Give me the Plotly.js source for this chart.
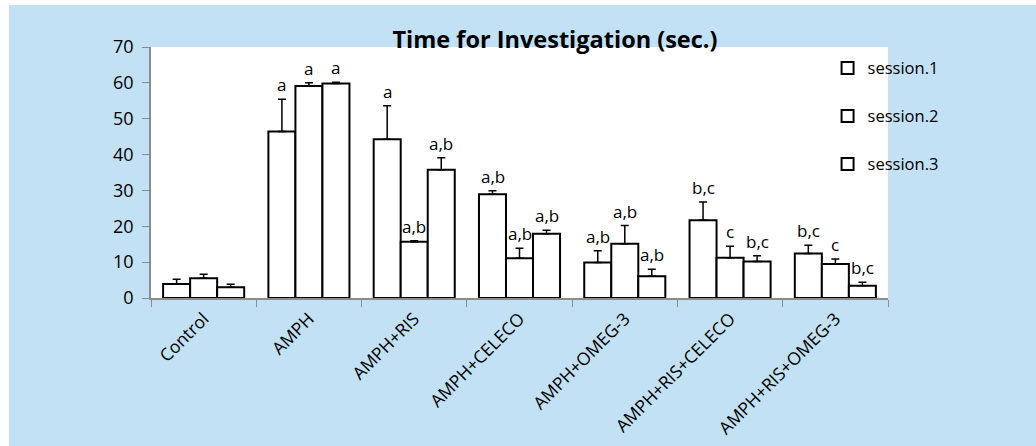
<!DOCTYPE html>
<html>
<head>
<meta charset="utf-8">
<script src="https://cdn.plot.ly/plotly-3.0.1.min.js"></script>
<style>
  html, body { margin: 0; padding: 0; background: #ffffff; }
  #chart { position: absolute; left: 9px; top: 5px; width: 1027px; height: 441px; }
</style>
</head>
<body>
<div id="chart"></div>
<script>
const categories = ["Control", "AMPH", "AMPH+RIS", "AMPH+CELECO", "AMPH+OMEG-3", "AMPH+RIS+CELECO", "AMPH+RIS+OMEG-3"];
const seriesNames = ["session.1", "session.2", "session.3"];

const session1 = [3.9, 46.4, 44.3, 28.9, 9.9, 21.7, 12.4];
const session2 = [5.5, 59.1, 15.7, 11.1, 15.1, 11.2, 9.5];
const session3 = [3.0, 59.8, 35.8, 17.9, 6.1, 10.2, 3.4];

const err1 = [1.3, 9.0, 9.3, 1.0, 3.3, 5.1, 2.3];
const err2 = [1.1, 0.9, 0.3, 2.8, 5.1, 3.2, 1.4];
const err3 = [0.8, 0.4, 3.3, 1.0, 1.9, 1.6, 1.0];

const letters1 = ["", "a", "a", "a,b", "a,b", "b,c", "b,c"];
const letters2 = ["", "a", "a,b", "a,b", "a,b", "c", "c"];
const letters3 = ["", "a", "a,b", "a,b", "a,b", "b,c", "b,c"];

const values = [session1, session2, session3];
const errors = [err1, err2, err3];
const letters = [letters1, letters2, letters3];

const FONT = "Open Sans, sans-serif";

const traces = values.map((vals, i) => ({
  type: "bar",
  name: seriesNames[i],
  x: categories,
  y: vals,
  legendgroup: "g" + i,
  marker: { color: "#ffffff", line: { color: "#000000", width: 2 } },
  error_y: {
    type: "data",
    array: errors[i],
    arrayminus: errors[i].map(() => 0),
    symmetric: false,
    color: "#000000",
    thickness: 1.5,
    width: 4
  }
}));

const barPx = 27;
const annotations = [];
letters.forEach((labs, i) => {
  labs.forEach((t, j) => {
    if (!t) return;
    annotations.push({
      x: categories[j],
      y: values[i][j] + errors[i][j],
      text: t,
      showarrow: false,
      xanchor: "center",
      yanchor: "bottom",
      xshift: (i - 1) * barPx,
      yshift: 1,
      font: { family: FONT, size: 17, color: "#000000" }
    });
  });
});

const layout = {
  width: 1027,
  height: 441,
  paper_bgcolor: "#c2e1f5",
  plot_bgcolor: "#ffffff",
  margin: { l: 142, r: 148, t: 42, b: 148 },
  barmode: "group",
  bargap: 0.23,
  bargroupgap: 0,
  showlegend: true,
  title: {
    text: "<b>Time for Investigation (sec.)</b>",
    font: { family: FONT, size: 23.5, color: "#000000" },
    x: (555 - 9) / 1027,
    xanchor: "center",
    y: 1 - (40 - 5) / 441,
    yanchor: "middle"
  },
  xaxis: {
    type: "category",
    showline: true,
    linecolor: "#8c8c8c",
    linewidth: 1.5,
    ticks: "outside",
    tickson: "boundaries",
    ticklen: 7,
    tickcolor: "#8c8c8c",
    tickangle: -45,
    ticklabelstandoff: 2,
    tickfont: { family: FONT, size: 17.5, color: "#000000" },
    showgrid: false,
    zeroline: false
  },
  yaxis: {
    range: [0, 70],
    dtick: 10,
    showline: true,
    linecolor: "#8c8c8c",
    linewidth: 1.5,
    ticks: "outside",
    ticklen: 7,
    tickcolor: "#8c8c8c",
    ticklabelstandoff: 5,
    tickfont: { family: FONT, size: 18, color: "#000000" },
    showgrid: false,
    zeroline: false
  },
  legend: {
    x: 0.918,
    y: 0.985,
    xanchor: "left",
    yanchor: "top",
    bgcolor: "rgba(0,0,0,0)",
    traceorder: "grouped",
    tracegroupgap: 23.5,
    font: { family: FONT, size: 16.5, color: "#000000" }
  },
  annotations: annotations
};

Plotly.newPlot("chart", traces, layout, { displayModeBar: false });
</script>
</body>
</html>
